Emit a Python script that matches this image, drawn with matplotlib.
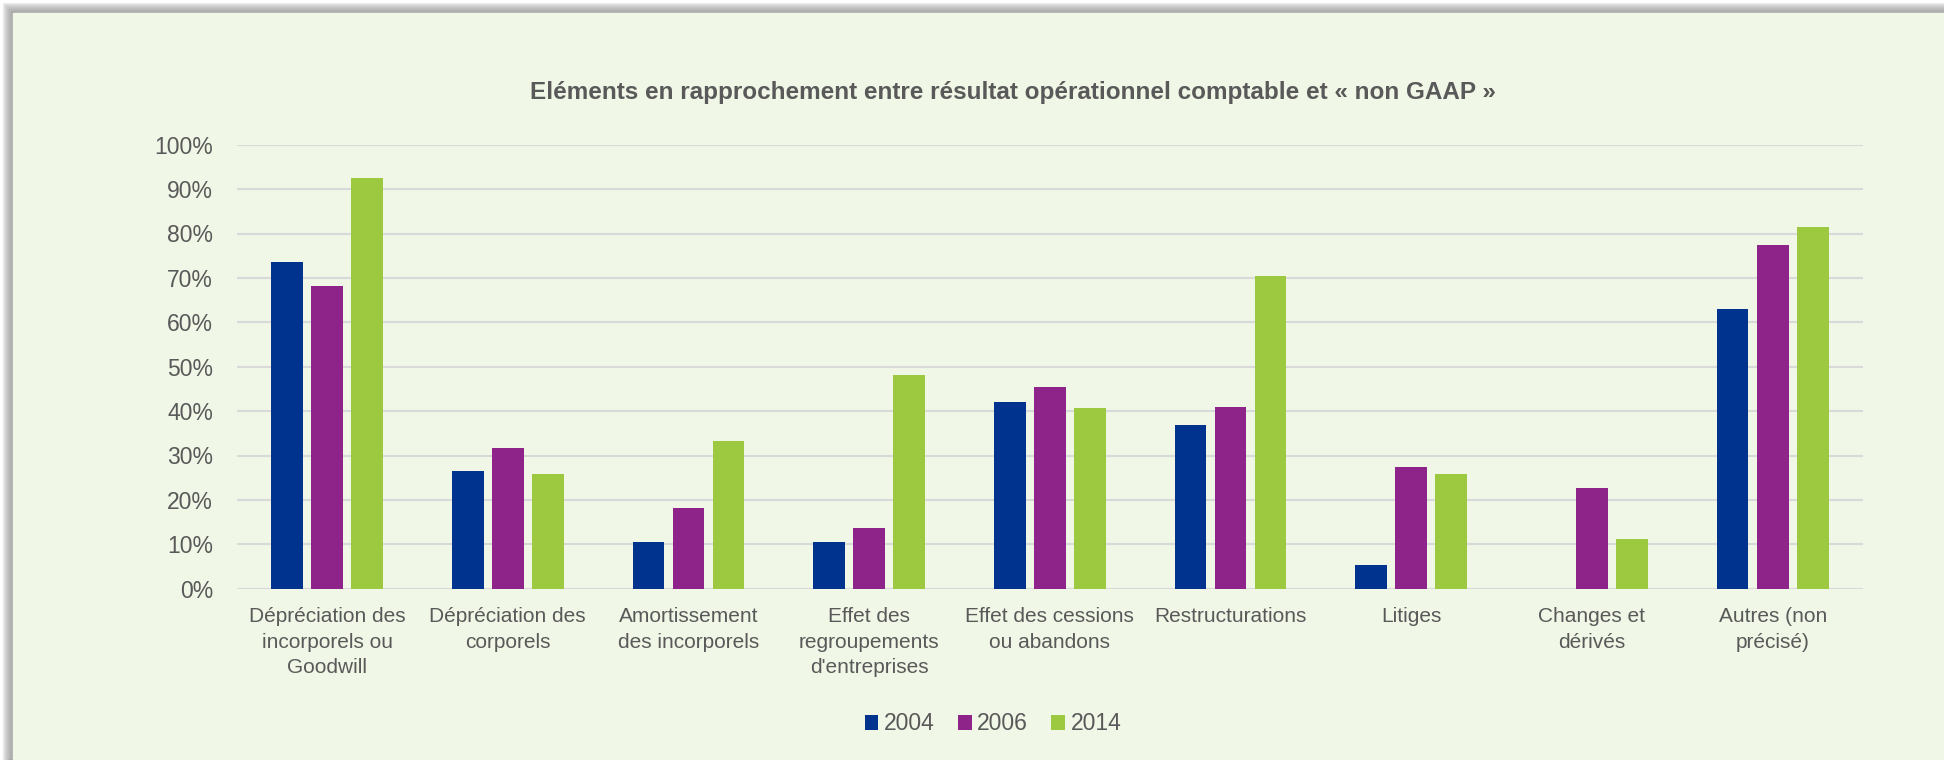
import numpy as np
import matplotlib
matplotlib.use('Agg')
from matplotlib import pyplot as plt
from matplotlib.patches import Rectangle

plt.rcParams['font.family'] = ['Liberation Sans', 'DejaVu Sans']

# Données (en fraction)
categories = ["Dépréciation des\nincorporels ou\nGoodwill",
              "Dépréciation des\ncorporels",
              "Amortissement\ndes incorporels",
              "Effet des\nregroupements\nd'entreprises",
              "Effet des cessions\nou abandons",
              "Restructurations",
              "Litiges",
              "Changes et\ndérivés",
              "Autres (non\nprécisé)"]
years = ['2004', '2006', '2014']
v2004 = [0.736, 0.264, 0.105, 0.105, 0.421, 0.369, 0.053, 0.0, 0.631]
v2006 = [0.682, 0.318, 0.182, 0.137, 0.454, 0.409, 0.273, 0.227, 0.773]
v2014 = [0.926, 0.259, 0.333, 0.481, 0.407, 0.704, 0.258, 0.111, 0.815]
colors = ['#00338D', '#8E2489', '#9DC940']

W, H = 1944, 760
fig = plt.figure(figsize=(W / 100, H / 100), dpi=100)
fig.patch.set_facecolor('white')

# ombre + cadre vert clair
for i in range(10):
    d = 10 - i
    fig.patches.append(Rectangle(((13 - d) / W, 0), 1, (747 + d) / H,
                                 transform=fig.transFigure, color='#808080',
                                 alpha=0.09, zorder=-3))
fig.patches.append(Rectangle((13 / W, 0), 1, 747 / H, transform=fig.transFigure,
                             color='#F0F7E6', zorder=-2))

ax = fig.add_axes([236.7 / W, 1 - 588.7 / H, (1863 - 236.7) / W, (588.7 - 144.7) / H])
ax.set_facecolor('none')

x = np.arange(len(categories))
pitch = 0.2214
width = 0.1755
for k, (vals, yr) in enumerate(zip([v2004, v2006, v2014], years)):
    ax.bar(x + (k - 1) * pitch, vals, width, color=colors[k], label=yr, zorder=3)

ax.set_xlim(-0.5, len(categories) - 0.5)
ax.set_ylim(0, 1)
ax.set_yticks(np.arange(0, 1.01, 0.1))
ax.set_yticklabels([f'{int(round(t * 100))}%' for t in np.arange(0, 1.01, 0.1)])
ax.set_xticks(x)
ax.set_xticklabels(categories, linespacing=1.45)
ax.grid(axis='y', color='#D9D9D9', linewidth=1.5, zorder=0)
ax.set_axisbelow(True)
for s in ax.spines.values():
    s.set_visible(False)
ax.tick_params(axis='both', length=0, labelsize=15, labelcolor='#595959')
ax.tick_params(axis='x', pad=13)
ax.tick_params(axis='y', pad=17, labelsize=16.5)

fig.text(1013 / W, 1 - 92 / H,
         "Eléments en rapprochement entre résultat opérationnel comptable et « non GAAP »",
         ha='center', va='center', fontsize=17.5, fontweight='bold', color='#595959')

fig.legend(loc='center', bbox_to_anchor=(993 / W, 1 - 724 / H), ncol=3, frameon=False,
           fontsize=16.5, labelcolor='#595959', handlelength=0.6, handleheight=0.6,
           handletextpad=0.25, columnspacing=1.0)

plt.savefig('out.png', dpi=100, facecolor=fig.get_facecolor())
